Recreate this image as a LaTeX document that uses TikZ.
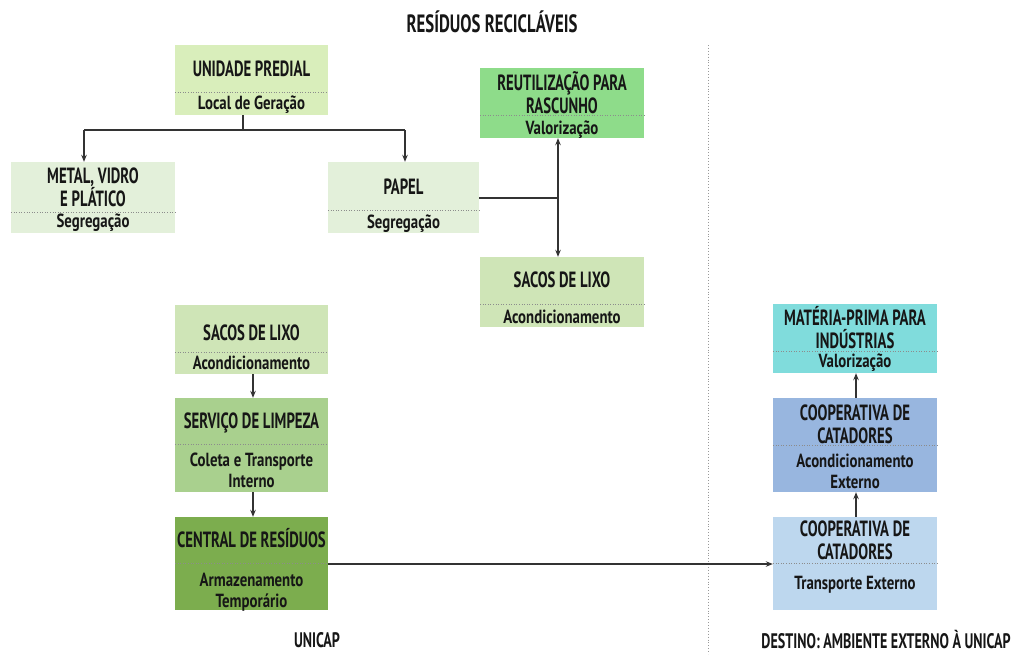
\documentclass[tikz,border=0pt]{standalone}
\usepackage{fontspec}
\setmainfont{PT Sans}[FakeStretch=0.67]
\newfontfamily\subfamily{PT Sans}[FakeStretch=0.78]
\usetikzlibrary{arrows.meta}
\definecolor{ink}{HTML}{161616}
\definecolor{wire}{HTML}{333333}
\definecolor{cUnid}{HTML}{D9EEBB}
\definecolor{cSeg}{HTML}{E3F0DA}
\definecolor{cReut}{HTML}{8EDC8A}
\definecolor{cSacos}{HTML}{CFE5B7}
\definecolor{cServ}{HTML}{A9D08E}
\definecolor{cCentral}{HTML}{7CAD4E}
\definecolor{cMateria}{HTML}{80DCDC}
\definecolor{cCoopA}{HTML}{98B6DF}
\definecolor{cCoopT}{HTML}{BDD7EE}
\tikzset{
  box/.style={draw=none, inner sep=0pt},
  sepline/.style={draw=black!45, dotted, line width=0.6pt},
  ttl/.style={text=ink, font=\bfseries\fontsize{22}{23}\selectfont, align=center, inner sep=0pt},
  sub/.style={text=ink, font=\subfamily\bfseries\fontsize{19}{21}\selectfont, align=center, inner sep=0pt},
  heading/.style={text=ink, font=\bfseries\fontsize{25}{26}\selectfont, inner sep=0pt},
  footer/.style={text=ink, font=\bfseries\fontsize{21}{22}\selectfont, inner sep=0pt},
  wireline/.style={draw=wire, line width=1.1pt},
  arrow/.style={wireline, -{Stealth[length=7pt,width=5.5pt]}},
  darrow/.style={wireline, {Stealth[length=7pt,width=5.5pt]}-{Stealth[length=7pt,width=5.5pt]}},
}
% box: name, x1, y1, x2, y2, separator y, colour
\newcommand{\stagebox}[7]{%
  \node[box, fill=#7, minimum width={(#4-#2)*1pt}, minimum height={(#5-#3)*1pt}] (#1) at ({(#2+#4)/2},{(#3+#5)/2}) {};
  \draw[sepline] (#2,#6) -- (#4,#6);
}
\begin{document}
\begin{tikzpicture}[x=1pt,y=-1pt]
\useasboundingbox[fill=white] (0,0) rectangle (1015,654);

% region divider
\draw[draw=black!40, dotted, line width=0.9pt] (708,45) -- (708,654);

% headings
\node[heading] (head) at (492,22) {RESÍDUOS RECICLÁVEIS};
\node[footer] (unicap) at (317,640) {UNICAP};
\node[footer] (destino) at (886,640) {DESTINO: AMBIENTE EXTERNO À UNICAP};

% stages
\stagebox{unid}{175}{45}{328}{115}{92}{cUnid}
\node[ttl] at (251.5,69) {UNIDADE PREDIAL};
\node[sub] at (251.5,105) {Local de Geração};

\stagebox{metal}{11}{162}{175}{233}{212}{cSeg}
\node[ttl] at (93,187) {METAL, VIDRO\\E PLÁTICO};
\node[sub] at (93,223) {Segregação};

\stagebox{papel}{328}{162}{479}{233}{210}{cSeg}
\node[ttl] at (403.5,187) {PAPEL};
\node[sub] at (403.5,224) {Segregação};

\stagebox{reut}{480}{68}{644}{138}{115}{cReut}
\node[ttl] at (562,92.5) {REUTILIZAÇÃO PARA\\RASCUNHO};
\node[sub] at (562,130) {Valorização};

\stagebox{sacosR}{480}{257}{644}{327}{304}{cSacos}
\node[ttl] at (562,280) {SACOS DE LIXO};
\node[sub] at (562,317) {Acondicionamento};

\stagebox{sacosL}{175}{305}{328}{374}{352}{cSacos}
\node[ttl] at (251.5,333) {SACOS DE LIXO};
\node[sub] at (251.5,363) {Acondicionamento};

\stagebox{serv}{175}{398}{328}{492}{444}{cServ}
\node[ttl] at (251.5,423) {SERVIÇO DE LIMPEZA};
\node[sub] at (251.5,470) {Coleta e Transporte\\Interno};

\stagebox{central}{175}{517}{328}{610}{563}{cCentral}
\node[ttl] at (251.5,538) {CENTRAL DE RESÍDUOS};
\node[sub] at (251.5,592.5) {Armazenamento\\Temporário};

\stagebox{materia}{773}{304}{937}{373}{351}{cMateria}
\node[ttl] at (855,328) {MATÉRIA-PRIMA PARA\\INDÚSTRIAS};
\node[sub] at (855,363) {Valorização};

\stagebox{coopA}{773}{398}{937}{492}{445}{cCoopA}
\node[ttl] at (855,424) {COOPERATIVA DE\\CATADORES};
\node[sub] at (855,471) {Acondicionamento\\Externo};

\stagebox{coopT}{773}{517}{937}{610}{563}{cCoopT}
\node[ttl] at (855,540) {COOPERATIVA DE\\CATADORES};
\node[sub] at (855,585) {Transporte Externo};

% connectors
\coordinate (split) at (243,130);
\coordinate (metalIn) at (84,130);
\coordinate (papelIn) at (405,130);
\draw[wireline] (unid.south -| split) -- (split);
\draw[wireline] (metalIn) -- (papelIn);
\draw[arrow] (metalIn) -- (metalIn |- metal.north);
\draw[arrow] (papelIn) -- (papelIn |- papel.north);

\coordinate (fork) at (558,198);
\draw[wireline] (papel.east |- fork) -- (fork);
\draw[darrow] (fork |- reut.south) -- (fork |- sacosR.north);

\coordinate (colL) at (253,0);
\draw[arrow] (sacosL.south -| colL) -- (serv.north -| colL);
\draw[arrow] (serv.south -| colL) -- (central.north -| colL);

\coordinate (flow) at (0,564);
\draw[arrow] (central.east |- flow) -- (coopT.west |- flow);

\coordinate (colR) at (856,0);
\draw[arrow] (coopT.north -| colR) -- (coopA.south -| colR);
\draw[arrow] (coopA.north -| colR) -- (materia.south -| colR);
\end{tikzpicture}
\end{document}
